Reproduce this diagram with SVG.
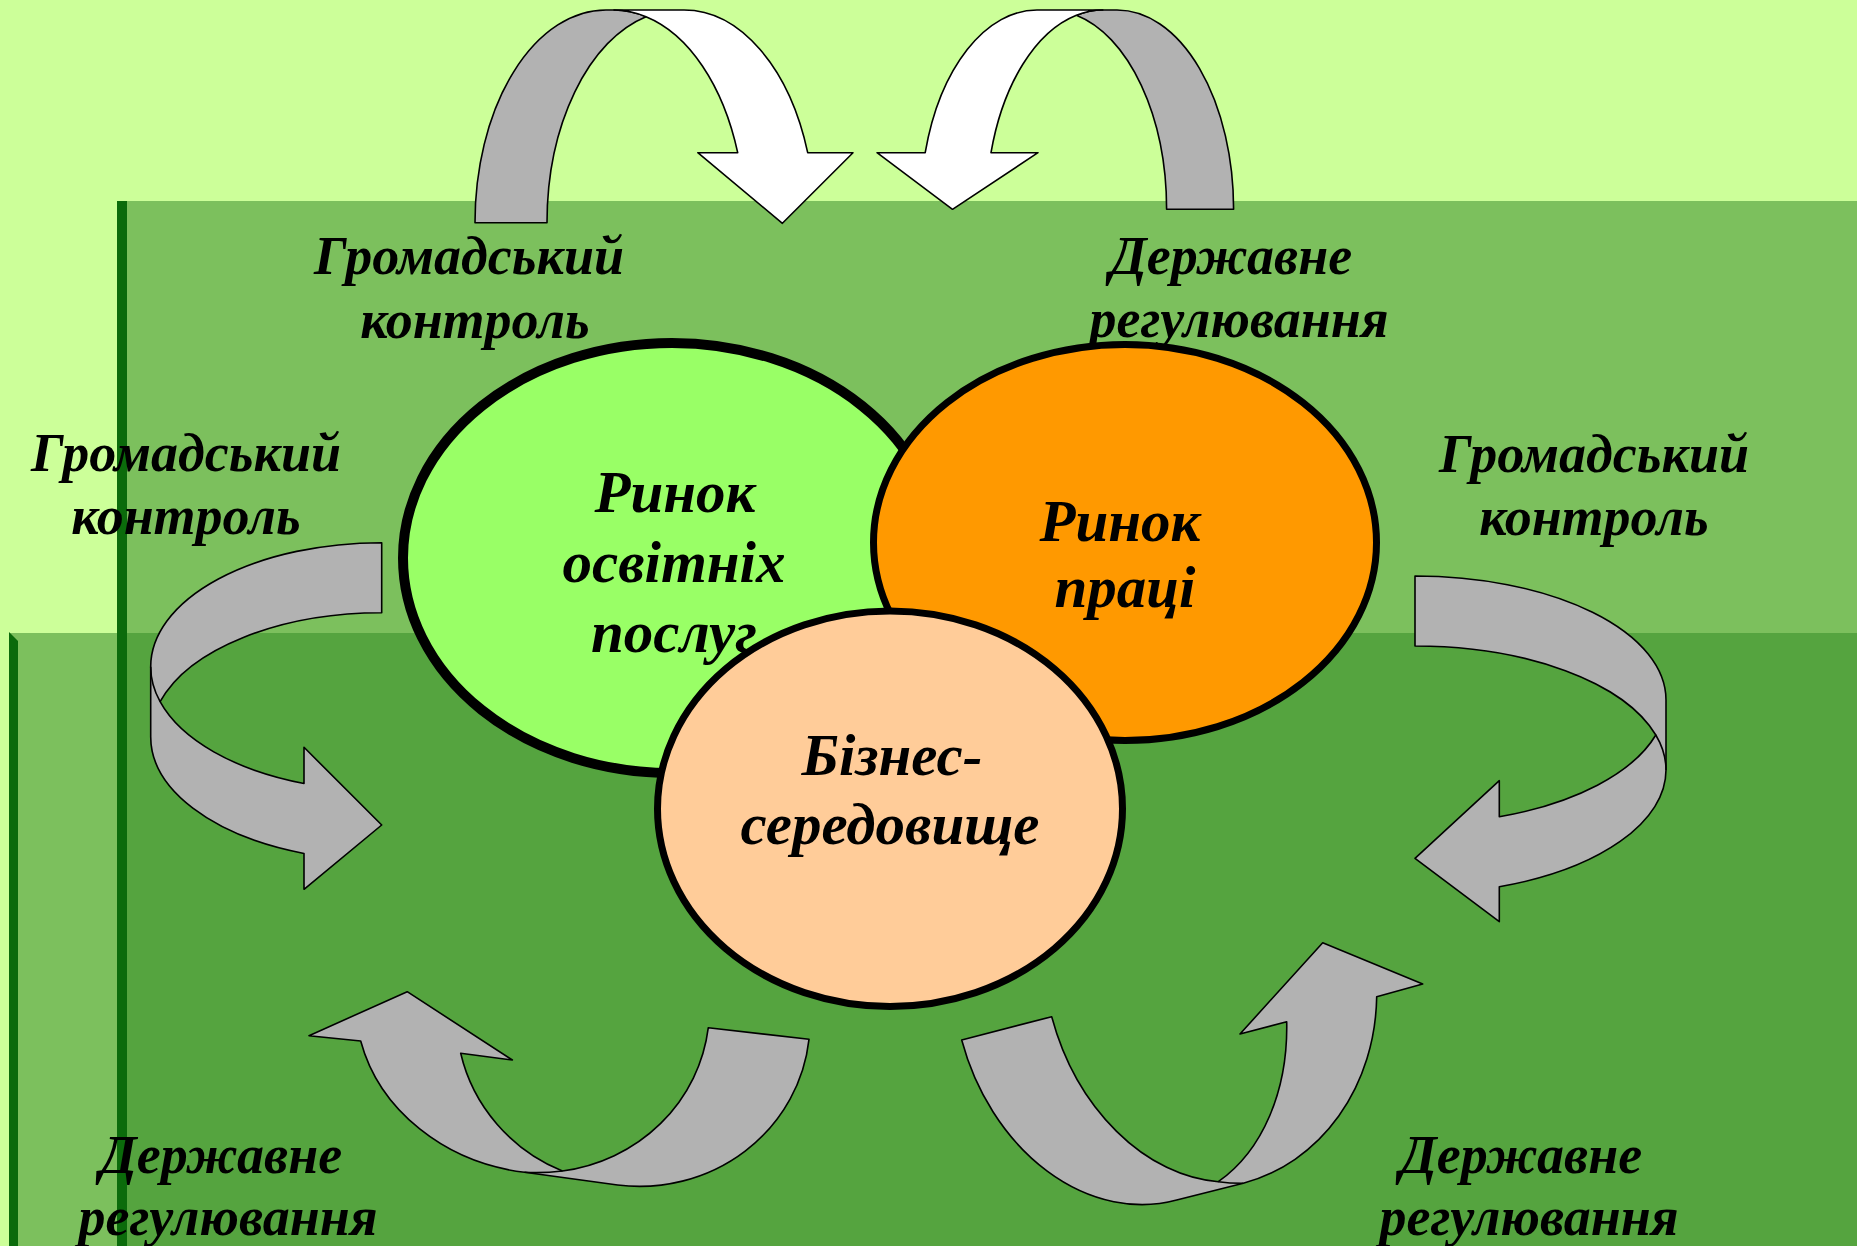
<svg xmlns="http://www.w3.org/2000/svg" width="1857" height="1246" viewBox="0 0 1857 1246">
<style>
.arrow{fill:#B2B2B2;stroke:#000;stroke-width:1.6;stroke-linejoin:round}
.front{fill:#FFFFFF;stroke:#000;stroke-width:1.6;stroke-linejoin:round}
.crease{fill:none;stroke:#000;stroke-width:1.6}
.lbl{font-family:"Liberation Serif","Times New Roman",serif;font-weight:bold;font-style:italic;font-size:54px;fill:#000;text-anchor:middle}
.ntx{font-family:"Liberation Serif","Times New Roman",serif;font-weight:bold;font-style:italic;font-size:59px;fill:#000;text-anchor:middle}
</style>
<g id="background">
<rect width="1857" height="1246" fill="#CCFF99"/>
<rect x="118" y="201" width="1739" height="1045" fill="#7CC05D"/>
<rect x="9" y="633" width="1848" height="613" fill="#7CC05D"/>
<rect x="127" y="633" width="1730" height="613" fill="#55A43F"/>
<rect x="117" y="201" width="10" height="1045" fill="#0B6B0B"/>
<polygon points="9,632 18,641 18,1246 9,1246" fill="#0B6B0B"/>
</g>
<g id="connectors">
<g id="arrow-top-left">
<path class="arrow" d="M 475,222.7 A 131 212.7 0 0 1 606,10 L 614,10 A 131 212.7 0 0 1 646,16.7 A 131 212.7 0 0 0 547,222.7 Z"/>
<path class="front" d="M 614,10 L 684,10 A 131 212.7 0 0 1 807.7,152.7 L 853,152.7 L 782.4,223.3 L 697.8,152.7 L 737.7,152.7 A 131 212.7 0 0 0 646,16.7 A 131 212.7 0 0 0 614,10 Z"/>
</g>
<g id="arrow-top-right">
<path class="arrow" d="M 1233.6,209.3 A 116.6 199.3 0 0 0 1117,10 L 1102.8,10 A 116.6 199.3 0 0 0 1076.4,15.2 A 116.6 199.3 0 0 1 1166.6,209.3 Z"/>
<path class="front" d="M 1102.8,10 L 1037,10 A 116.6 199.3 0 0 0 925.2,152.7 L 877,152.7 L 952.5,209.3 L 1038,152.7 L 991,152.7 A 116.6 199.3 0 0 1 1076.4,15.2 A 116.6 199.3 0 0 1 1102.8,10 Z"/>
</g>
<g id="arrow-mid-left">
<path class="arrow" d="M 381.7,542.7 A 231 124 0 0 0 150.7,666.7 L 150.7,736.7 A 231 124 0 0 0 304,853.5 L 304,889.3 L 381.7,825 L 304,747.3 L 304,783.5 A 231 124 0 0 1 160.1,701.7 A 231 124 0 0 1 381.7,612.7 Z"/>
<path class="crease" d="M 150.7,666.7 A 231 124 0 0 0 160.1,701.7"/>
</g>
<g id="arrow-mid-right">
<path class="arrow" d="M 1415,576 A 251 124 0 0 1 1666,700 L 1666,770 A 251 124 0 0 1 1499.3,886.8 L 1499.3,921.7 L 1415,858.3 L 1499.3,780.7 L 1499.3,816.8 A 251 124 0 0 0 1655.8,735 A 251 124 0 0 0 1415,646 Z"/>
<path class="crease" d="M 1655.8,735 A 251 124 0 0 1 1666,770"/>
</g>
<g id="arrow-bottom-left">
<path class="arrow" d="M 360.7,1041 A 189 166 7 0 0 524.5,1172.3 L 617.6,1185 A 172 166 7 0 0 809,1039.3 L 708.3,1027.7 A 172 166 7 0 1 562.4,1171 A 172 166 7 0 1 460.7,1053.3 L 512.4,1060 L 407.2,991.7 L 309,1035.7 Z"/>
<path class="crease" d="M 524.5,1172.3 A 189 166 7 0 0 562.4,1171"/>
</g>
<g id="arrow-bottom-right">
<path class="arrow" d="M 961.7,1040 A 166 210 -15 0 0 1176.7,1200 L 1243.3,1183.3 A 186 210 -15 0 0 1376.7,996.7 L 1422.7,984 L 1322.7,942.7 L 1240,1034 L 1286.7,1021.7 A 156 210 -15 0 1 1218.3,1181.7 A 160 210 -15 0 1 1051.7,1016.7 Z"/>
<path class="crease" d="M 1243.3,1183.3 A 186 210 -15 0 1 1218.3,1181.7"/>
</g>
</g>
<g id="node-education-market">
<ellipse cx="672" cy="558" rx="269" ry="215" fill="#99FF66" stroke="#000" stroke-width="10"/>
<text class="ntx" x="675" y="512">Ринок</text>
<text class="ntx" x="674" y="582">освітніх</text>
<text class="ntx" x="674" y="652">послуг</text>
</g>
<g id="node-labour-market">
<ellipse cx="1125" cy="542.5" rx="251.5" ry="198" fill="#FF9900" stroke="#000" stroke-width="7"/>
<text class="ntx" x="1120" y="541">Ринок</text>
<text class="ntx" x="1125" y="607">праці</text>
</g>
<g id="node-business-environment">
<ellipse cx="890" cy="808.75" rx="232.5" ry="197.75" fill="#FFCC99" stroke="#000" stroke-width="7"/>
<text class="ntx" x="892" y="775">Бізнес-</text>
<text class="ntx" x="890" y="844">середовище</text>
</g>
<g id="label-top-left">
<text class="lbl" x="469" y="274">Громадський</text>
<text class="lbl" x="475" y="338">контроль</text>
</g>
<g id="label-top-right">
<text class="lbl" x="1231" y="274">Державне</text>
<text class="lbl" x="1239" y="337">регулювання</text>
</g>
<g id="label-mid-left">
<text class="lbl" x="186" y="471">Громадський</text>
<text class="lbl" x="186" y="534">контроль</text>
</g>
<g id="label-mid-right">
<text class="lbl" x="1594" y="472">Громадський</text>
<text class="lbl" x="1594" y="535">контроль</text>
</g>
<g id="label-bottom-left">
<text class="lbl" x="221" y="1173">Державне</text>
<text class="lbl" x="228" y="1235">регулювання</text>
</g>
<g id="label-bottom-right">
<text class="lbl" x="1521" y="1173">Державне</text>
<text class="lbl" x="1529" y="1235">регулювання</text>
</g>
</svg>
